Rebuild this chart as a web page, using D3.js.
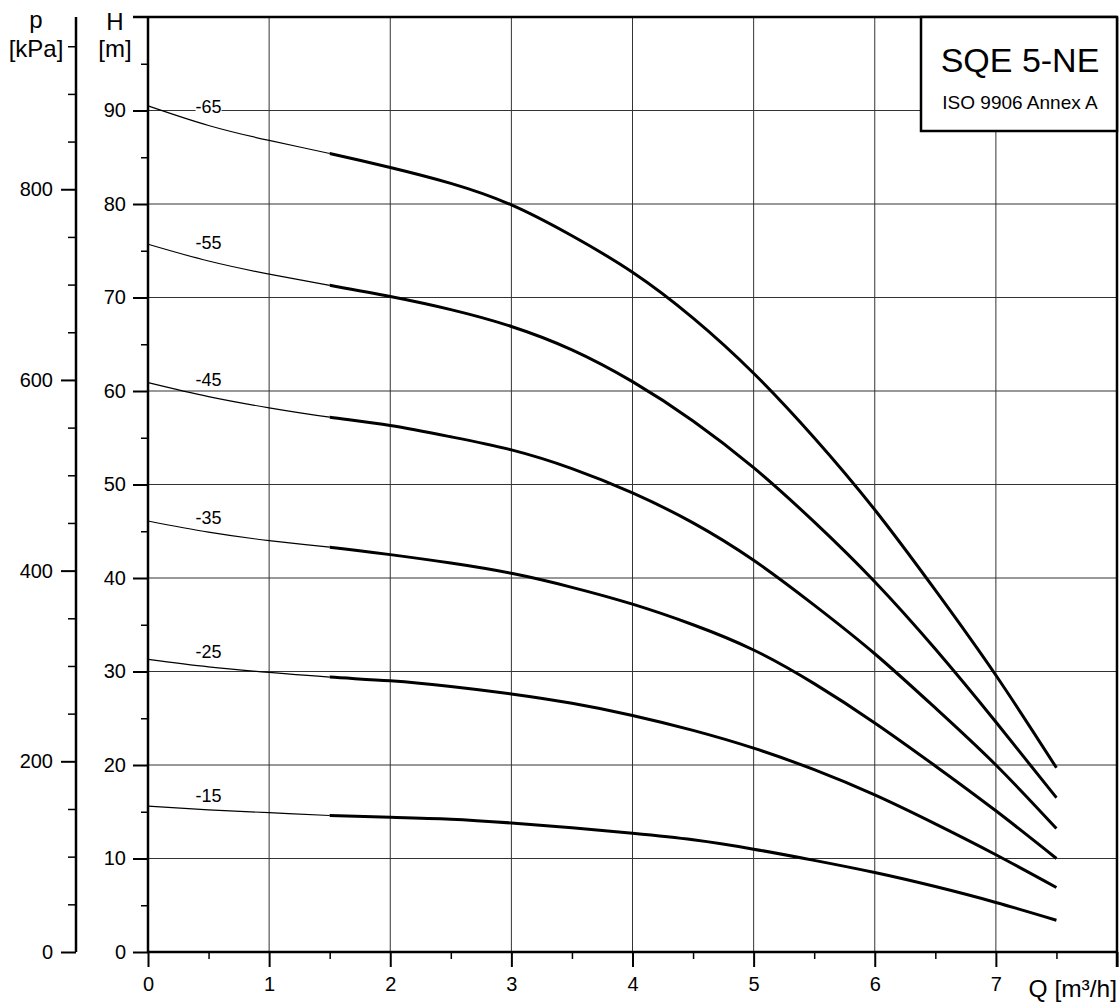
<!DOCTYPE html>
<html>
<head>
<meta charset="utf-8">
<script src="https://cdn.jsdelivr.net/npm/d3@7"></script>
<style>
  html, body { margin: 0; padding: 0; background: #fff; }
  svg { display: block; font-family: "Liberation Sans", Arial, sans-serif; }
</style>
</head>
<body>
<svg id="chart" width="1119" height="1003"></svg>
<script>
// ---- data ----
const flowQ = [0, 0.5, 1, 1.5, 2, 2.5, 3, 3.5, 4, 4.5, 5, 5.5, 6, 6.5, 7, 7.5];
const curveNames = ["-65", "-55", "-45", "-35", "-25", "-15"];
const head65 = [90.5, 88.4, 86.8, 85.4, 83.9, 82.2, 79.9, 76.6, 72.7, 67.8, 61.9, 55.0, 47.3, 38.7, 29.6, 19.7];
const head55 = [75.7, 73.9, 72.5, 71.3, 70.1, 68.7, 66.9, 64.4, 61.0, 56.8, 51.8, 46.0, 39.6, 32.4, 24.6, 16.5];
const head45 = [60.9, 59.4, 58.2, 57.2, 56.3, 55.1, 53.7, 51.7, 49.1, 45.9, 41.9, 37.1, 31.9, 26.1, 20.0, 13.2];
const head35 = [46.1, 44.9, 44.0, 43.3, 42.5, 41.6, 40.5, 39.0, 37.2, 35.0, 32.3, 28.7, 24.5, 19.9, 15.1, 10.0];
const head25 = [31.3, 30.5, 29.9, 29.4, 29.0, 28.4, 27.6, 26.6, 25.3, 23.7, 21.8, 19.5, 16.8, 13.7, 10.4, 6.9];
const head15 = [15.6, 15.2, 14.9, 14.6, 14.4, 14.2, 13.8, 13.3, 12.7, 12.0, 11.0, 9.8, 8.5, 7.0, 5.3, 3.4];
const labelQ = 0.5;
const labelH = [89.7, 75.2, 60.5, 45.8, 31.4, 16.0];
const thickFromQ = 1.5;

const qTicks = [0, 1, 2, 3, 4, 5, 6, 7];
const qMinorTicks = [0.5, 1.5, 2.5, 3.5, 4.5, 5.5, 6.5, 7.5];
const hTicks = [0, 10, 20, 30, 40, 50, 60, 70, 80, 90];
const hMinorTicks = [5, 15, 25, 35, 45, 55, 65, 75, 85, 95];
const pTicks = [0, 200, 400, 600, 800];
const pMinorTicks = [50, 100, 150, 250, 300, 350, 450, 500, 550, 650, 700, 750, 850, 900, 950];

const titleMain = "SQE 5-NE";
const titleSub = "ISO 9906 Annex A";

(function () {
// ---- layout ----
const svg = d3.select("#chart");
const pl = 148, pr = 1117, pt = 17, pb = 952;
const pAxisX = 76;
const x = d3.scaleLinear().domain([0, 8]).range([pl, pr]);
const y = d3.scaleLinear().domain([0, 100]).range([pb, pt]);
const kPaPerM = 9.80665;
const yp = d3.scaleLinear().domain([0, 100 * kPaPerM]).range([pb, pt]);

const font = "'Liberation Sans', Arial, sans-serif";

// grid
const grid = svg.append("g").attr("stroke", "#333").attr("stroke-width", 1);
qTicks.filter(d => d > 0).forEach(q => {
  grid.append("line").attr("x1", x(q)).attr("x2", x(q)).attr("y1", y(0)).attr("y2", y(100));
});
hTicks.filter(d => d > 0).forEach(h => {
  grid.append("line").attr("x1", x(0)).attr("x2", x(8)).attr("y1", y(h)).attr("y2", y(h));
});

// H axis
const hAxis = d3.axisLeft(y).tickValues(hTicks).tickSize(15).tickPadding(7).tickFormat(d3.format("d"));
const gH = svg.append("g").attr("transform", `translate(${pl},0)`).call(hAxis);
gH.select(".domain").remove();
gH.selectAll(".tick line").attr("stroke", "#000").attr("stroke-width", 2);
gH.selectAll(".tick text").attr("font-size", 20).attr("font-family", font).attr("fill", "#000");
const hMinor = d3.axisLeft(y).tickValues(hMinorTicks).tickSize(7).tickFormat("");
const gHm = svg.append("g").attr("transform", `translate(${pl},0)`).call(hMinor);
gHm.select(".domain").remove();
gHm.selectAll(".tick line").attr("stroke", "#000").attr("stroke-width", 1.5);

// p axis
const pAxis = d3.axisLeft(yp).tickValues(pTicks).tickSize(15).tickPadding(8).tickFormat(d3.format("d"));
const gP = svg.append("g").attr("transform", `translate(${pAxisX},0)`).call(pAxis);
gP.select(".domain").remove();
gP.selectAll(".tick line").attr("stroke", "#000").attr("stroke-width", 2);
gP.selectAll(".tick text").attr("font-size", 20).attr("font-family", font).attr("fill", "#000");
const pMinor = d3.axisLeft(yp).tickValues(pMinorTicks).tickSize(8).tickFormat("");
const gPm = svg.append("g").attr("transform", `translate(${pAxisX},0)`).call(pMinor);
gPm.select(".domain").remove();
gPm.selectAll(".tick line").attr("stroke", "#000").attr("stroke-width", 1.5);
svg.append("line").attr("x1", pAxisX).attr("x2", pAxisX).attr("y1", pt).attr("y2", pb)
  .attr("stroke", "#000").attr("stroke-width", 2.5);

// Q axis
const qAxis = d3.axisBottom(x).tickValues(qTicks.concat([8])).tickSize(15).tickPadding(10)
  .tickFormat(d => d === 8 ? "" : d3.format("d")(d));
const gQ = svg.append("g").attr("transform", `translate(0,${pb})`).call(qAxis);
gQ.select(".domain").remove();
gQ.selectAll(".tick line").attr("stroke", "#000").attr("stroke-width", 2);
gQ.selectAll(".tick text").attr("font-size", 20).attr("font-family", font).attr("fill", "#000");
const qMinor = d3.axisBottom(x).tickValues(qMinorTicks).tickSize(7).tickFormat("");
const gQm = svg.append("g").attr("transform", `translate(0,${pb})`).call(qMinor);
gQm.select(".domain").remove();
gQm.selectAll(".tick line").attr("stroke", "#000").attr("stroke-width", 1.5);

// frame lines
const frame = svg.append("g").attr("stroke", "#000").attr("stroke-width", 2.5).attr("fill", "none");
frame.append("line").attr("x1", pl).attr("x2", pl).attr("y1", pt).attr("y2", pb);
frame.append("line").attr("x1", pl).attr("x2", pr).attr("y1", pb).attr("y2", pb);
frame.append("line").attr("x1", pl - 15).attr("x2", pr).attr("y1", pt).attr("y2", pt);
frame.append("line").attr("x1", pr).attr("x2", pr).attr("y1", pt).attr("y2", pb + 15);

// axis titles
const tt = svg.append("g").attr("font-family", font).attr("font-size", 24).attr("fill", "#000").attr("text-anchor", "middle");
tt.append("text").attr("x", 36).attr("y", 28).text("p");
tt.append("text").attr("x", 36).attr("y", 57).text("[kPa]");
tt.append("text").attr("x", 115).attr("y", 30).text("H");
tt.append("text").attr("x", 115).attr("y", 57).text("[m]");
tt.append("text").attr("x", 1117).attr("y", 997).attr("text-anchor", "end").attr("font-size", 24.5).text("Q [m³/h]");

// curves
const series = [head65, head55, head45, head35, head25, head15];
const line = d3.line().x(d => x(d[0])).y(d => y(d[1])).curve(d3.curveNatural);
const defs = svg.append("defs");
defs.append("clipPath").attr("id", "thickClip").append("rect")
  .attr("x", x(thickFromQ)).attr("y", 0).attr("width", 1119 - x(thickFromQ)).attr("height", 1003);
defs.append("clipPath").attr("id", "thinClip").append("rect")
  .attr("x", 0).attr("y", 0).attr("width", x(thickFromQ)).attr("height", 1003);

series.forEach((vals) => {
  const pts = flowQ.map((q, j) => [q, vals[j]]);
  svg.append("path").datum(pts).attr("d", line).attr("fill", "none")
    .attr("stroke", "#000").attr("stroke-width", 1.2).attr("clip-path", "url(#thinClip)");
  svg.append("path").datum(pts).attr("d", line).attr("fill", "none")
    .attr("stroke", "#000").attr("stroke-width", 3).attr("stroke-linecap", "butt")
    .attr("clip-path", "url(#thickClip)");
});

// labels with white background
const labels = svg.append("g");
series.forEach((vals, i) => {
  const t = labels.append("text").attr("x", x(labelQ)).attr("y", y(labelH[i]))
    .attr("text-anchor", "middle").attr("font-family", font).attr("font-size", 18)
    .attr("fill", "#000").text(curveNames[i]);
  const bb = t.node().getBBox();
  labels.insert("rect", "text").attr("x", bb.x).attr("y", bb.y + 2).attr("width", bb.width)
    .attr("height", bb.height - 4).attr("fill", "#fff");
});

// title box
const bx = 921, by = pt, bw = pr - 921, bh = 114;
svg.append("rect").attr("x", bx).attr("y", by).attr("width", bw).attr("height", bh)
  .attr("fill", "#fff").attr("stroke", "#000").attr("stroke-width", 2.5);
svg.append("text").attr("x", bx + bw / 2 + 1).attr("y", 72).attr("text-anchor", "middle")
  .attr("font-family", font).attr("font-size", 34).attr("fill", "#000").text(titleMain);
svg.append("text").attr("x", bx + bw / 2 + 1).attr("y", 109).attr("text-anchor", "middle")
  .attr("font-family", font).attr("font-size", 19).attr("fill", "#000").text(titleSub);
})();
</script>
</body>
</html>
